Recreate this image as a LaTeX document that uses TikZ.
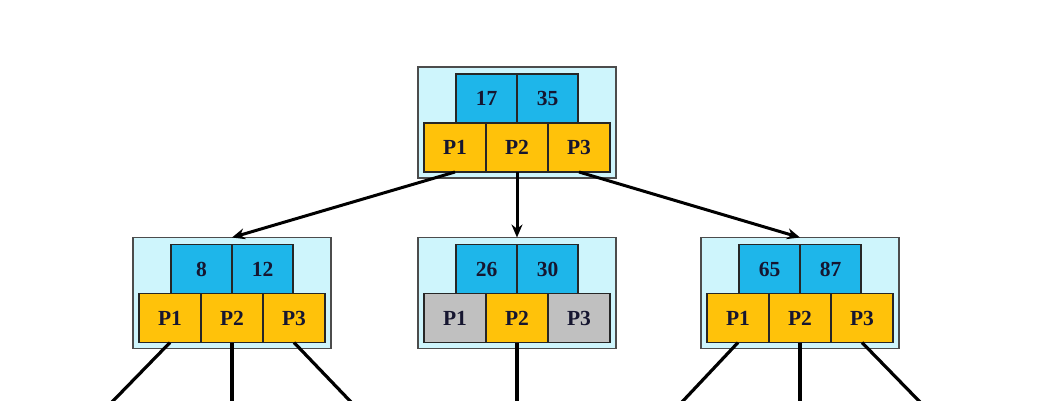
\documentclass[tikz,border=0pt]{standalone}
\usepackage{fontspec}
\setmainfont{Liberation Serif}
\usetikzlibrary{arrows.meta,positioning}
\definecolor{btBack}{RGB}{206,245,252}
\definecolor{btKey}{RGB}{30,182,234}
\definecolor{btPtr}{RGB}{255,194,10}
\definecolor{btGray}{RGB}{192,192,192}
\definecolor{btText}{RGB}{22,22,48}

\tikzset{
  block/.style={draw=black!70, fill=btBack, line width=1.4pt, outer sep=0pt,
    minimum width=198pt, minimum height=111pt, inner sep=0pt},
  keycell/.style={draw=black!85, fill=btKey, line width=1.4pt, outer sep=0pt,
    minimum width=61pt, minimum height=49pt, inner sep=0pt, text=btText,
    font=\fontsize{21.5}{24}\selectfont\bfseries},
  ptrcell/.style={keycell, fill=btPtr, minimum width=62pt},
  nullcell/.style={ptrcell, fill=btGray},
  link/.style={line width=3pt, -{Stealth[length=13pt,width=11pt]}},
  edge/.style={line width=3.2pt}
}

\begin{document}
\begin{tikzpicture}[x=1pt,y={(0pt,-1pt)}]
\useasboundingbox (0,0) rectangle (1046,400);

% the four tree nodes
\foreach \nm/\cx/\cy/\ka/\kb/\sa/\sc in {root/517/122.5/17/35/ptrcell/ptrcell,
    left/232/293/8/12/ptrcell/ptrcell, mid/517/293/26/30/nullcell/nullcell,
    right/800/293/65/87/ptrcell/ptrcell}{
  \node[block] (\nm) at (\cx,\cy) {};
  \node[keycell, below left=7pt and 0pt of \nm.north] (\nm-k1) {\ka};
  \node[keycell, right=0pt of \nm-k1] (\nm-k2) {\kb};
  \node[ptrcell, below=56pt of \nm.north] (\nm-p2) {P2};
  \node[\sa, left=0pt of \nm-p2] (\nm-p1) {P1};
  \node[\sc, right=0pt of \nm-p2] (\nm-p3) {P3};
}

% links from the root
\draw[link] (root-p1.south) -- (left.north);
\draw[link] (root-p2.south) -- (mid.north);
\draw[link] (root-p3.south) -- (right.north);

% lower links, cut off at the bottom
\coordinate (left-e1) at (112,402);
\coordinate (left-e2) at (232,402);
\coordinate (left-e3) at (351,402);
\coordinate (mid-e2) at (517,402);
\coordinate (right-e1) at (682,402);
\coordinate (right-e2) at (800,402);
\coordinate (right-e3) at (920,402);
\draw[edge] (left-p1.south) -- (left-e1);
\draw[edge] (left-p2.south) -- (left-e2);
\draw[edge] (left-p3.south) -- (left-e3);
\draw[edge] (mid-p2.south) -- (mid-e2);
\draw[edge] (right-p1.south) -- (right-e1);
\draw[edge] (right-p2.south) -- (right-e2);
\draw[edge] (right-p3.south) -- (right-e3);
\end{tikzpicture}
\end{document}
